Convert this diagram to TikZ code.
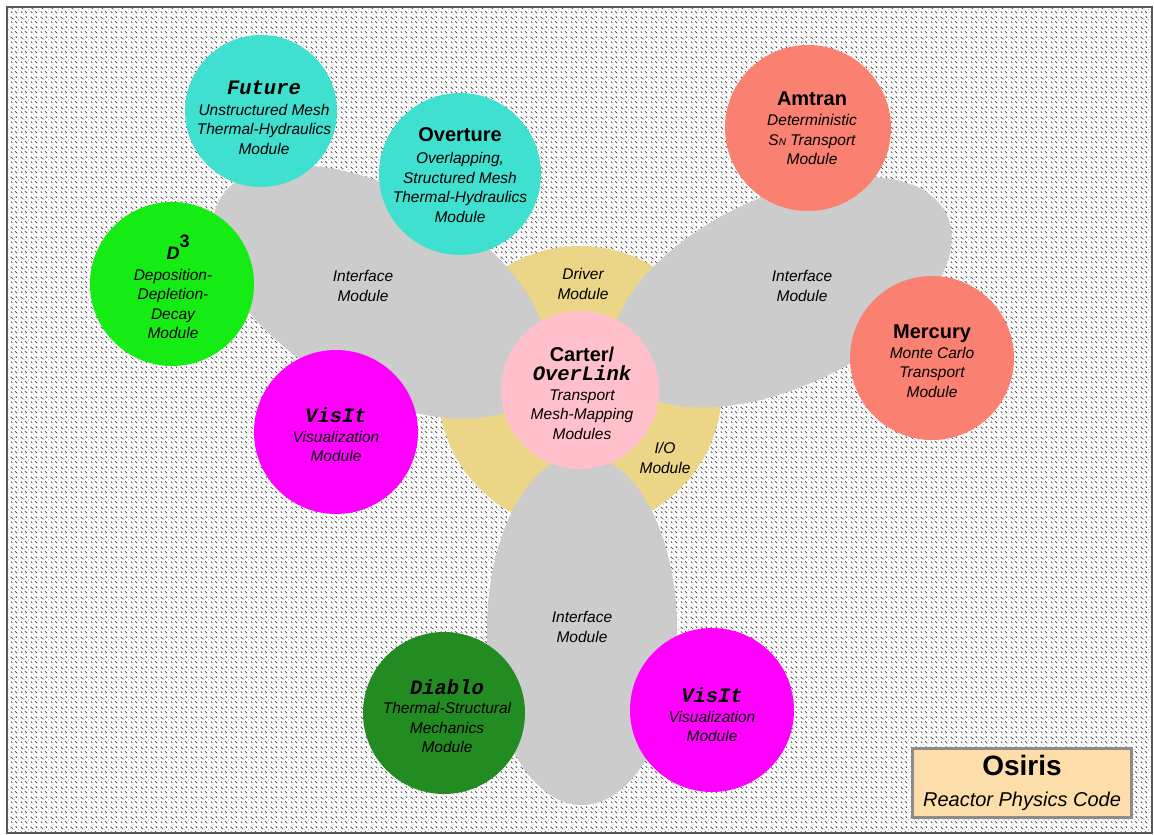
\documentclass[tikz,border=0pt]{standalone}
\usepackage{fontspec}
\setmainfont{Liberation Sans}
\setmonofont{Liberation Mono}
\usetikzlibrary{patterns.meta}

\definecolor{speckgray}{gray}{0.28}
\definecolor{framegray}{gray}{0.35}
\definecolor{lobegray}{RGB}{204,204,204}
\definecolor{hubyellow}{RGB}{234,214,134}
\definecolor{hubpink}{RGB}{255,192,203}
\definecolor{turq}{RGB}{64,224,208}
\definecolor{brightgreen}{RGB}{20,236,20}
\definecolor{forest}{RGB}{34,139,34}
\definecolor{magentafill}{RGB}{255,0,255}
\definecolor{salmonfill}{RGB}{250,128,114}
\definecolor{peach}{RGB}{253,222,170}
\definecolor{boxedge}{gray}{0.55}

% speckled paper background
\tikzdeclarepattern{
  name=speckle,
  type=uncolored,
  bounding box={(0pt,0pt) and (10pt,10pt)},
  tile size={(10pt,10pt)},
  code={
    \draw[line width=0.9pt, line cap=round] (0.8pt,9.0pt) -- (2.8pt,7.0pt);
    \draw[line width=0.9pt, line cap=round] (5.8pt,4.0pt) -- (7.8pt,2.0pt);
    \draw[line width=0.9pt, line cap=round] (6.4pt,9.3pt) -- (7.6pt,8.1pt);
    \draw[line width=0.9pt, line cap=round] (1.4pt,3.6pt) -- (2.4pt,2.6pt);
    \fill (4.3pt,6.4pt) circle (0.5pt);
    \fill (9.2pt,5.6pt) circle (0.45pt);
    \fill (4.0pt,0.9pt) circle (0.4pt);
  }
}

\newcommand\descfont{\fontsize{15.5}{19.5}\selectfont\itshape}
\newcommand\ttl{\fontsize{20}{19.5}\selectfont\bfseries\upshape}
\newcommand\ttlmono{\fontsize{20.5}{19.5}\selectfont\ttfamily\bfseries\itshape}

\tikzset{
  bubble/.style={circle, inner sep=0pt, minimum size=#1},
  lbl/.style={align=center, inner sep=0pt, font=\descfont, text=black},
}

\begin{document}
\begin{tikzpicture}[x=1pt,y=-1pt]
\useasboundingbox (0,0) rectangle (1154,835);
\fill[white] (0,0) rectangle (1154,835);
\path[pattern=speckle, pattern color=speckgray] (7,7) rectangle (1152,833);
\draw[framegray, line width=1.6pt] (7,7) rectangle (1152,833);

% hub ring
\fill[hubyellow] (580,388) circle (142);

% three interface lobes
\fill[lobegray, rotate around={-30:(380,292)}] (380,292) ellipse [x radius=185, y radius=100];
\fill[lobegray, rotate around={25:(782,292)}] (782,292) ellipse [x radius=182, y radius=95];
\fill[lobegray] (582,630) ellipse [x radius=95, y radius=175];

% core
\node[bubble=158, fill=hubpink] (carter) at (580,390) {};

% modules
\node[bubble=152, fill=turq] (future) at (261,111) {};
\node[bubble=162, fill=turq] (overture) at (460,174) {};
\node[bubble=164, fill=brightgreen] (d3) at (172,284) {};
\node[bubble=164, fill=magentafill] (visitL) at (336,432) {};
\node[bubble=166, fill=salmonfill] (amtran) at (808,128) {};
\node[bubble=164, fill=salmonfill] (mercury) at (932,358) {};
\node[bubble=162, fill=forest] (diablo) at (444,713) {};
\node[bubble=164, fill=magentafill] (visitB) at (712,710) {};

% labels
\node[lbl] (carterT) at (582,393) {{\ttl Carter/}\\{\ttlmono OverLink}\\Transport\\Mesh-Mapping\\Modules};
\node[lbl] (futureT) at (264,118) {{\ttlmono Future}\\[1pt]Unstructured Mesh\\Thermal-Hydraulics\\Module};
\node[lbl] (overtureT) at (460,175) {{\ttl Overture}\\[3pt]Overlapping,\\Structured Mesh\\Thermal-Hydraulics\\Module};
\node[lbl] (d3T) at (173,287) {{\fontsize{18}{19.5}\selectfont\bfseries D\rlap{\raisebox{12pt}{\upshape 3}}}\\[1pt]Deposition-\\Depletion-\\Decay\\Module};
\node[lbl] (visitLT) at (336,435) {{\ttlmono VisIt}\\Visualization\\Module};
\node[lbl] (amtranT) at (812,128) {{\ttl Amtran}\\[1pt]Deterministic\\S{\fontsize{10}{10}\selectfont N} Transport\\Module};
\node[lbl] (mercuryT) at (932,361) {{\ttl Mercury}\\Monte Carlo\\Transport\\Module};
\node[lbl] (diabloT) at (447,716) {{\ttlmono Diablo}\\Thermal-Structural\\Mechanics\\Module};
\node[lbl] (visitBT) at (712,715) {{\ttlmono VisIt}\\Visualization\\Module};

\node[lbl] (ifL) at (363,286) {Interface\\Module};
\node[lbl] (ifR) at (802,286) {Interface\\Module};
\node[lbl] (ifB) at (582,627) {Interface\\Module};
\node[lbl] (driver) at (583,284) {Driver\\Module};
\node[lbl] (io) at (665,458) {I/O\\Module};

% title box
\node[draw=boxedge, line width=2.5pt, fill=peach, minimum width=219, minimum height=69,
      align=center, inner sep=0pt, font={\fontsize{20}{31}\selectfont}] (osiris) at (1022,783)
  {{\fontsize{28}{31}\selectfont\bfseries Osiris}\\{\itshape Reactor Physics Code}};
\end{tikzpicture}
\end{document}
